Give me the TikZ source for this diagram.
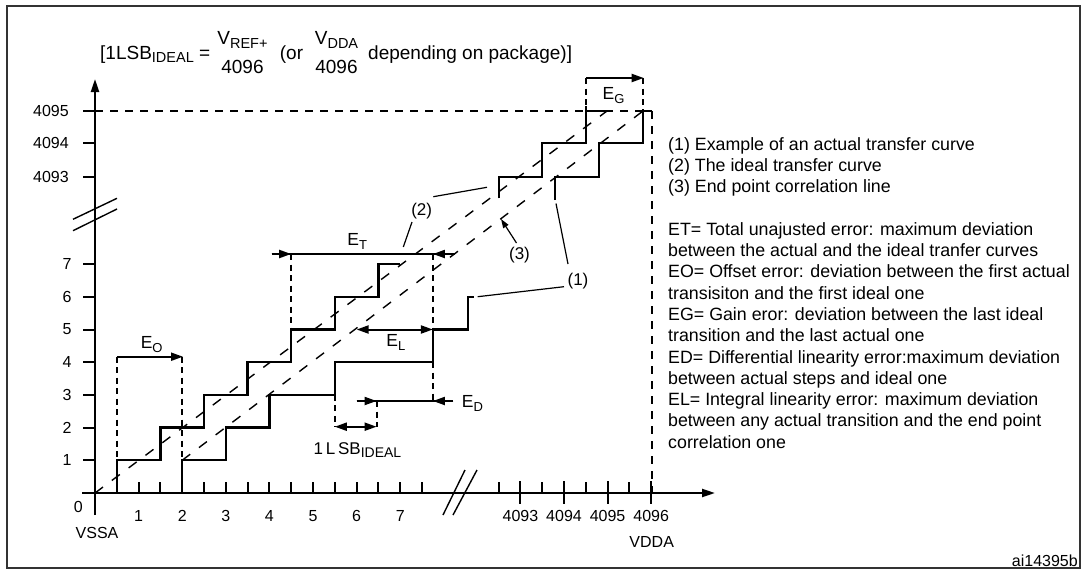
\documentclass[tikz,border=0pt]{standalone}
\usepackage{fontspec}
\setmainfont{Liberation Sans}
\usetikzlibrary{arrows.meta}
\newcommand\mysub[1]{\raisebox{-0.2em}{\fontsize{14.5}{14.5}\selectfont #1}}
\newcommand\esub[1]{\raisebox{-0.24em}{\fontsize{13}{13}\selectfont #1}}
\newcommand\lsbsub[1]{\raisebox{-0.22em}{\fontsize{14}{14}\selectfont #1}}
\begin{document}
\begin{tikzpicture}[x=1pt,y=-1pt,
  frame/.style={line width=1.4pt, draw=black!80},
  axis/.style={line width=2.2pt, -{Triangle[length=13pt,width=8pt]}},
  tickmark/.style={line width=2pt},
  stair/.style={line width=2.3pt, line join=miter},
  diag/.style={line width=1.4pt, dash pattern=on 10pt off 11pt},
  guide/.style={line width=2pt, dash pattern=on 6pt off 4.5pt},
  longdash/.style={line width=2pt, dash pattern=on 8pt off 7pt},
  dim/.style={line width=2pt},
  dimtip/.style={line width=2pt, -{Triangle[length=12pt,width=8pt]}},
  bothtips/.style={line width=2pt, {Triangle[length=12pt,width=8pt]}-{Triangle[length=12pt,width=8pt]}},
  brk/.style={line width=1.4pt},
  leader/.style={line width=1.2pt},
  lbl/.style={font=\fontsize{16}{16}\selectfont, inner sep=0pt},
  elbl/.style={font=\fontsize{17.5}{17.5}\selectfont, inner sep=0pt, anchor=base},
  leg/.style={font=\fontsize{17.8}{21}\selectfont, inner sep=0pt, anchor=base west},
  hdr/.style={font=\fontsize{19}{22}\selectfont, inner sep=0pt, anchor=base},
]
\useasboundingbox (0,0) rectangle (1085,570);
\draw[frame] (7,6) rectangle (1080,568);

% header
\node[hdr, anchor=base west] (h1) at (100,59) {[1LSB\mysub{IDEAL} =};
\node[hdr] (f1n) at (242.5,45) {V\mysub{REF+}};
\node[hdr] (f1d) at (242.5,73) {4096};
\node[hdr] (h2) at (291.5,59) {(or};
\node[hdr] (f2n) at (336.5,45) {V\mysub{DDA}};
\node[hdr] (f2d) at (336.5,73) {4096};
\node[hdr, anchor=base west] (h3) at (368,59) {depending on package)]};

% dashed reference lines (behind)
\draw[longdash] (95,111) -- (652,111);
\draw[longdash] (651.7,111) -- (651.7,493);
\draw[diag] (95,493) -- (607,111);
\draw[diag] (182.2,460.3) -- (643,111);

% axes
\draw[axis] (95,515) -- (95,79);
\draw[axis] (82,493) -- (715,493);

% y ticks and labels
\foreach \n in {1,...,7} {
  \draw[tickmark] (83,{493-32.7*\n}) -- (95,{493-32.7*\n});
  \node[lbl] at (67,{493-32.7*\n}) {\n};
}
\foreach \yy/\t in {176.7/4093,143.3/4094,111/4095} {
  \draw[tickmark] (83,\yy) -- (95,\yy);
  \node[lbl] at (51,\yy) {\t};
}
\node[lbl] (zero) at (78.3,506.7) {0};
\node[lbl] (vssa) at (97,533) {VSSA};

% x ticks and labels
\foreach \u in {0.5,1,...,7.5}
  \draw[tickmark] ({95+43.6*\u},482) -- ({95+43.6*\u},493);
\foreach \n in {1,...,7}
  \node[lbl] at ({95+43.6*\n},516) {\n};
\foreach \xx in {498.6,542.2,585.8,629.4}
  \draw[tickmark] (\xx,482) -- (\xx,493);
\foreach \xx/\t in {520.4/4093,564/4094,607.6/4095,651.2/4096} {
  \draw[tickmark] (\xx,481) -- (\xx,504);
  \node[lbl] at (\xx,516) {\t};
}
\node[lbl] (vdda) at (651.7,541.7) {VDDA};

% axis breaks
\draw[brk] (73,219.3) -- (117,198.3);
\draw[brk] (73,230.7) -- (117,209);
\draw[brk] (443,515) -- (465,470);
\draw[brk] (453,515) -- (477,470);

% staircase: ideal (upper) left part
\draw[stair] (116.8,493) -- (116.8,460.3) -- (160.4,460.3) -- (160.4,427.6) -- (204,427.6)
  -- (204,394.9) -- (247.6,394.9) -- (247.6,362.2) -- (291.2,362.2) -- (291.2,329.5)
  -- (334.8,329.5) -- (334.8,296.8) -- (378.4,296.8) -- (378.4,264.1) -- (400.2,264.1);
% staircase: actual (lower) left part
\draw[stair] (182.2,493) -- (182.2,460.3) -- (225.8,460.3) -- (225.8,427.6) -- (269.4,427.6)
  -- (269.4,394.9) -- (334.8,394.9) -- (334.8,362.2) -- (432.9,362.2) -- (432.9,329.5)
  -- (468.3,329.5) -- (468.3,296.8) -- (473.5,296.8);
% upper right parts
\draw[stair] (499,198.3) -- (499,176.7) -- (541.7,176.7) -- (541.7,143.3) -- (586,143.3) -- (586,106);
\draw[stair] (586,111) -- (607,111);
\draw[stair] (555,200) -- (555,176.7) -- (599.3,176.7) -- (599.3,143.3) -- (642.7,143.3) -- (642.7,109);
\draw[stair] (642.7,111) -- (651.7,111);

% E_G
\draw[guide] (586,78) -- (586,106);
\draw[guide] (642.7,78) -- (642.7,109);
\draw[dimtip] (586,78) -- (643.7,78);
\node[elbl] (eg) at (613.5,99) {E\esub{G}};

% E_O
\draw[guide] (116.8,356.7) -- (116.8,460.3);
\draw[guide] (182.2,356.7) -- (182.2,460.3);
\draw[dimtip] (116.8,356.7) -- (183,356.7);
\node[elbl] (eo) at (151.7,348.5) {E\esub{O}};

% E_T
\draw[guide] (291.2,254) -- (291.2,329.5);
\draw[guide] (432.9,254) -- (432.9,329.5);
\draw[dim] (271.7,254) -- (455,254);
\draw[dimtip] (271.7,254) -- (291.2,254);
\draw[dimtip] (455,254) -- (432.9,254);
\node[elbl] (et) at (357.3,245.7) {E\esub{T}};

% E_L
\draw[bothtips] (356.6,329.5) -- (432.9,329.5);
\node[elbl] (el) at (395.8,346.7) {E\esub{L}};

% E_D
\draw[guide] (432.9,362.2) -- (432.9,401);
\draw[dim] (356.6,401) -- (453.3,401);
\draw[dimtip] (356.6,401) -- (376.6,401);
\draw[dimtip] (453.3,401) -- (432.9,401);
\node[elbl] (ed) at (472.5,407.3) {E\esub{D}};

% 1 LSB ideal
\draw[guide] (334.8,394.9) -- (334.8,426.7);
\draw[guide] (376.6,401) -- (376.6,426.7);
\draw[bothtips] (334.8,426.7) -- (376.6,426.7);
\node[lbl, anchor=base west] (lsb) at (313.3,454) {\fontsize{17}{17}\selectfont 1\,L\,SB\lsbsub{IDEAL}};

% curve labels and leaders
\node[lbl, font=\fontsize{17}{17}\selectfont] (n2) at (421.7,211) {(2)};
\node[lbl, font=\fontsize{17}{17}\selectfont] (n3) at (519.5,255) {(3)};
\node[lbl, font=\fontsize{17}{17}\selectfont] (n1) at (578,281) {(1)};
\coordinate (n2a) at (412,222);   \coordinate (t2a) at (403.3,247);
\coordinate (n2b) at (433.3,196.7); \coordinate (t2b) at (487,187.3);
\coordinate (n3a) at (516.5,243); \coordinate (t3a) at (501,219);
\coordinate (n1a) at (564,286.7); \coordinate (t1a) at (477.7,296.7);
\coordinate (n1b) at (568,264);   \coordinate (t1b) at (556,203.5);
\draw[leader] (n2a) -- (t2a);
\draw[leader] (n2b) -- (t2b);
\draw[leader, -{Triangle[length=9pt,width=6pt]}] (n3a) -- (t3a);
\draw[leader] (n1a) -- (t1a);
\draw[leader] (n1b) -- (t1b);

% legend
\node[leg] (g1) at (668,150) {(1) Example of an actual transfer curve};
\node[leg] (g2) at (668,171.3) {(2) The ideal transfer curve};
\node[leg] (g3) at (668,192.6) {(3) End point correlation line};
\node[leg] (g4) at (668,235.2) {ET= Total unajusted error: maximum deviation};
\node[leg] (g5) at (668,256.5) {between the actual and the ideal tranfer curves};
\node[leg] (g6) at (668,277.8) {EO= Offset error: deviation between the first actual};
\node[leg] (g7) at (668,299.1) {transisiton and the first ideal one};
\node[leg] (g8) at (668,320.4) {EG= Gain eror: deviation between the last ideal};
\node[leg] (g9) at (668,341.7) {transition and the last actual one};
\node[leg] (g10) at (668,363) {ED= Differential linearity error:maximum deviation};
\node[leg] (g11) at (668,384.3) {between actual steps and ideal one};
\node[leg] (g12) at (668,405.6) {EL= Integral linearity error: maximum deviation};
\node[leg] (g13) at (668,426.9) {between any actual transition and the end point};
\node[leg] (g14) at (668,448.2) {correlation one};

\node[lbl, anchor=base east] (ref) at (1078,566) {ai14395b};
\end{tikzpicture}
\end{document}
